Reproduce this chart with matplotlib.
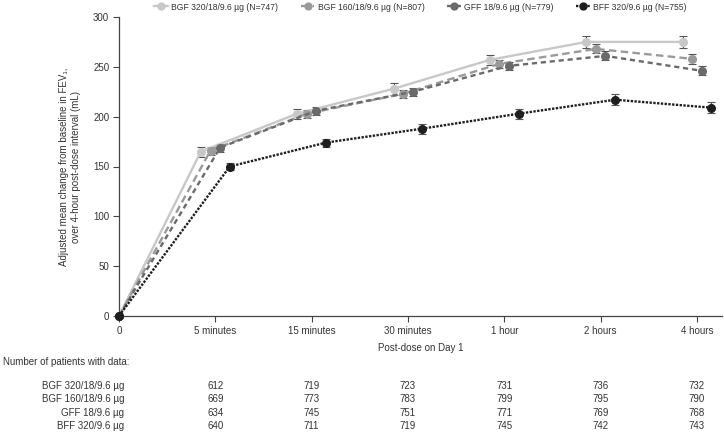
"""FEV1 change from baseline over 4 hours post-dose, Day 1, with patient counts table."""

import matplotlib
matplotlib.use("Agg")
import matplotlib.pyplot as plt
from matplotlib.transforms import blended_transform_factory

plt.rcParams["font.family"] = ["Liberation Sans", "DejaVu Sans"]

timepoints = ["0", "5 minutes", "15 minutes", "30 minutes", "1 hour", "2 hours", "4 hours"]
series = ["BGF 320/18/9.6 µg", "BGF 160/18/9.6 µg", "GFF 18/9.6 µg", "BFF 320/9.6 µg"]
n_total = [747, 807, 779, 755]

bgf320 = [0, 165, 203, 228, 257, 275, 275]
bgf160 = [0, 166, 203, 223, 253, 268, 258]
gff = [0, 169, 206, 225, 251, 261, 246]
bff = [0, 150, 174, 188, 203, 217, 209]

bgf320_se = [0, 5, 5, 6, 5, 6, 6]
bgf160_se = [0, 4, 4, 4, 4, 4.5, 5]
gff_se = [0, 4, 4, 4, 4, 4.5, 4.5]
bff_se = [0, 4, 4, 5, 5, 5.5, 5.5]

n_bgf320 = [612, 719, 723, 731, 736, 732]
n_bgf160 = [669, 773, 783, 799, 795, 790]
n_gff = [634, 745, 751, 771, 769, 768]
n_bff = [640, 711, 719, 745, 742, 743]

values = [bgf320, bgf160, gff, bff]
errors = [bgf320_se, bgf160_se, gff_se, bff_se]
counts = [n_bgf320, n_bgf160, n_gff, n_bff]

# style per series: colour, dash pattern, dodge offset
styles = [
    dict(color="#c8c8c8", ls="-", dx=-0.15),
    dict(color="#9a9a9a", ls=(0, (3.2, 1.8)), dx=-0.05),
    dict(color="#6a6a6a", ls=(0, (2.2, 1.6)), dx=0.05),
    dict(color="#1e1e1e", ls=(0, (1.0, 0.6)), dx=0.15),
]

W, H = 724, 433
fig = plt.figure(figsize=(W / 100, H / 100), dpi=100)
ax = fig.add_axes([119 / W, 1 - 316 / H, (722 - 119) / W, (316 - 17) / H])

handles = []
for vals, errs, st, name, n in zip(values, errors, styles, series, n_total):
    xs = [i + (st["dx"] if i > 0 else 0) for i in range(len(vals))]
    ax.errorbar(xs[1:], vals[1:], yerr=errs[1:], fmt="none", ecolor="#555555",
                elinewidth=0.8, capsize=3, capthick=0.8, zorder=2)
    ln, = ax.plot(xs, vals, ls=st["ls"], color=st["color"], lw=1.7, marker="o",
                  ms=5.5, mfc=st["color"], mec=st["color"], clip_on=False, zorder=3,
                  label=f"{name} (N={n})")
    handles.append(ln)

ax.set_xlim(0, 6.26)
ax.set_ylim(0, 300)
ax.set_xticks(range(len(timepoints)))
ax.set_xticklabels(timepoints)
ax.set_yticks(range(0, 301, 50))
for s in ["top", "right"]:
    ax.spines[s].set_visible(False)
for s in ["left", "bottom"]:
    ax.spines[s].set_color("#444444")
    ax.spines[s].set_linewidth(0.9)
ax.tick_params(direction="out", length=4, width=0.8, color="#444444",
               labelsize=7, labelcolor="#333333", pad=3)
ax.set_xlabel("Post-dose on Day 1", fontsize=7, color="#333333", labelpad=5)

fig.text(70 / W, 1 - 166.5 / H,
         "Adjusted mean change from baseline in FEV₁,\nover 4-hour post-dose interval (mL)",
         rotation=90, ha="center", va="center", multialignment="center",
         fontsize=7, color="#333333", linespacing=1.15)

fig.legend(handles=handles, loc="center left", bbox_to_anchor=(154 / W, 1 - 7 / H),
           ncol=4, frameon=False, fontsize=6.2, handlelength=1.6, handletextpad=0.4,
           columnspacing=2.6, borderaxespad=0, borderpad=0, labelcolor="#333333",
           markerscale=0.9)

# patient-count table below the axis
tr = blended_transform_factory(ax.transData, fig.transFigure)
fig.text(3 / W, 1 - 362 / H, "Number of patients with data:", fontsize=7,
         color="#333333", va="center", ha="left")
row_y = [386, 399.5, 412.5, 426]
for name, cnt, y in zip(series, counts, row_y):
    fig.text(124 / W, 1 - y / H, name, fontsize=7, color="#333333", ha="right", va="center")
    for i, c in enumerate(cnt):
        ax.text(i + 1, 1 - y / H, str(c), transform=tr, fontsize=7, color="#333333",
                ha="center", va="center", clip_on=False)

fig.savefig("out.png", dpi=100)
